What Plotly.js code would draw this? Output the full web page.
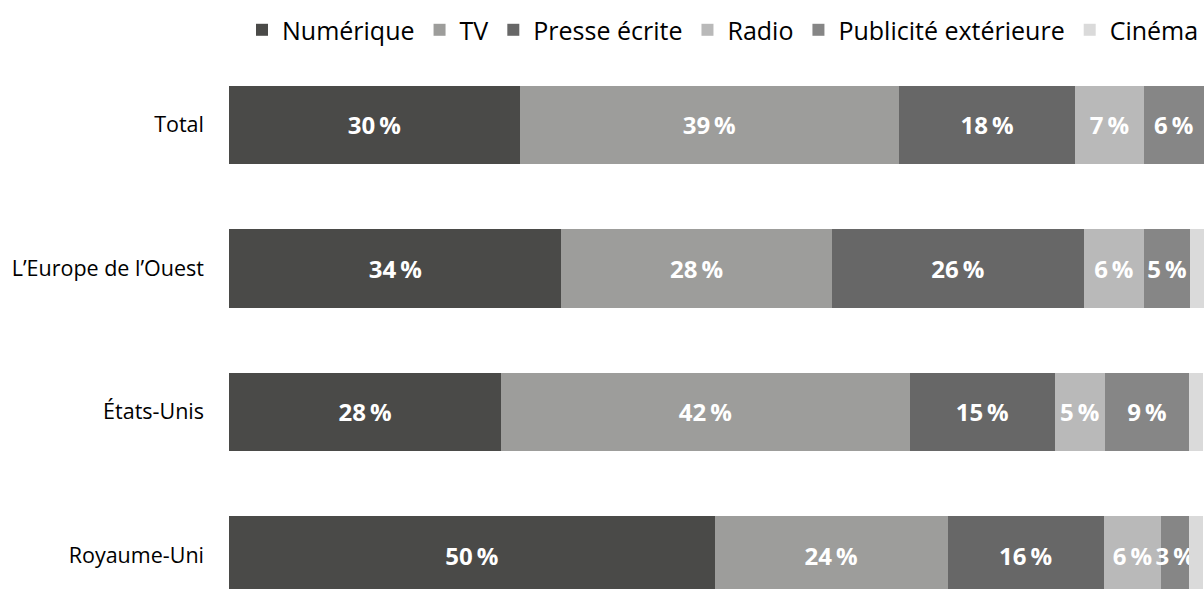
<!DOCTYPE html>
<html>
<head>
<meta charset="utf-8">
<script src="https://cdn.plot.ly/plotly-3.0.1.min.js"></script>
<style>html,body{margin:0;padding:0;background:#fff;}#chart{width:1204px;height:589px;}</style>
</head>
<body>
<div id="chart"></div>
<script>
const categories = ["Total", "L\u2019Europe de l\u2019Ouest", "\u00c9tats-Unis", "Royaume-Uni"];
const seriesNames = ["Num\u00e9rique", "TV", "Presse \u00e9crite", "Radio", "Publicit\u00e9 ext\u00e9rieure", "Cin\u00e9ma"];
const numerique = [29.8, 34.1, 27.9, 49.8];
const tv = [38.9, 27.7, 41.9, 23.9];
const presse = [18.1, 25.9, 14.9, 16.0];
const radio = [7.0, 6.1, 5.1, 5.9];
const exterieur = [6.2, 4.8, 8.7, 2.9];
const cinema = [0.0, 1.4, 1.4, 1.4];
const colors = ["#4a4a48", "#9d9d9b", "#676767", "#b9b9b9", "#868686", "#dadada"];

const seriesValues = [numerique, tv, presse, radio, exterieur, cinema];
const showLabels = [true, true, true, true, true, false];

const traces = seriesValues.map((vals, i) => ({
  type: 'bar',
  orientation: 'h',
  name: seriesNames[i],
  y: categories,
  x: vals,
  marker: {color: colors[i], line: {width: 0}},
  text: showLabels[i] ? vals.map(v => Math.round(v) + '\u2009%') : vals.map(() => ''),
  textposition: showLabels[i] ? 'inside' : 'none',
  insidetextanchor: 'middle',
  textangle: 0,
  constraintext: 'none',
  textfont: {family: 'Open Sans, sans-serif', size: 24, color: '#ffffff', weight: 700},
  hoverinfo: 'skip'
}));

const layout = {
  width: 1204,
  height: 589,
  barmode: 'stack',
  bargap: 0.454,
  margin: {l: 229, r: 0, t: 51, b: 0, pad: 0},
  paper_bgcolor: '#ffffff',
  plot_bgcolor: '#ffffff',
  font: {family: 'Open Sans, sans-serif', color: '#000000'},
  uniformtext: {mode: 'show', minsize: 24},
  showlegend: true,
  legend: {
    orientation: 'h',
    x: 1, xref: 'container', xanchor: 'right',
    y: 0.949, yref: 'container', yanchor: 'middle',
    font: {size: 25, color: '#000000', family: 'Open Sans, sans-serif'},
    traceorder: 'normal',
    itemclick: false,
    itemdoubleclick: false,
    itemwidth: 30,
    borderwidth: 0
  },
  xaxis: {
    range: [0, 100],
    showgrid: false,
    zeroline: false,
    showline: false,
    showticklabels: false,
    ticks: '',
    fixedrange: true
  },
  yaxis: {
    type: 'category',
    range: [3.234, -0.5],
    showgrid: false,
    zeroline: false,
    showline: false,
    ticks: '',
    ticklabelstandoff: 24,
    tickfont: {size: 21.5, color: '#000000', family: 'Open Sans, sans-serif'},
    fixedrange: true
  }
};

Plotly.newPlot('chart', traces, layout, {displayModeBar: false, staticPlot: true});
</script>
</body>
</html>
